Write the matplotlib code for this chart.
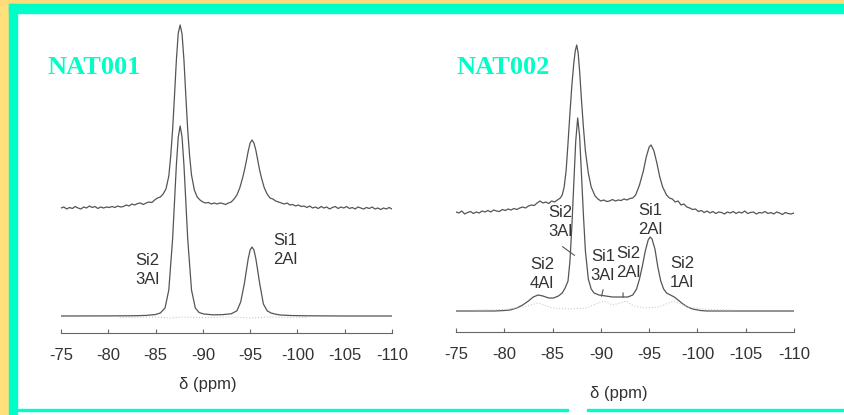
import matplotlib.pyplot as plt
from matplotlib.patches import Rectangle

# --- NAT001 ---
# experimental trace (top), intensity above its own baseline
ppm_exp1 = [-75.0, -75.3, -75.6, -75.9, -76.2, -76.5, -76.8, -77.1, -77.4, -77.7,
            -78.0, -78.3, -78.6, -78.9, -79.2, -79.5, -79.8, -80.1, -80.4, -80.7,
            -81.0, -81.3, -81.6, -81.9, -82.2, -82.5, -82.8, -83.1, -83.4, -83.7,
            -84.0, -84.3, -84.6, -84.9, -85.2, -85.5, -85.8, -86.1, -86.4, -86.6,
            -86.8, -87.0, -87.2, -87.4, -87.6, -87.8, -88.0, -88.2, -88.4, -88.6,
            -88.8, -89.1, -89.4, -89.7, -90.0, -90.3, -90.6, -90.9, -91.2, -91.5,
            -91.8, -92.1, -92.4, -92.7, -93.0, -93.3, -93.6, -93.9, -94.2, -94.4,
            -94.6, -94.8, -95.0, -95.2, -95.4, -95.6, -95.8, -96.0, -96.2, -96.5,
            -96.8, -97.1, -97.4, -97.7, -98.0, -98.3, -98.6, -98.9, -99.2, -99.5,
            -99.8, -100.1, -100.4, -100.7, -101.0, -101.3, -101.6, -101.9, -102.2, -102.5,
            -102.8, -103.1, -103.4, -103.7, -104.0, -104.3, -104.6, -104.9, -105.2, -105.5,
            -105.8, -106.1, -106.4, -106.7, -107.0, -107.3, -107.6, -107.9, -108.2, -108.5,
            -108.8, -109.1, -109.4, -109.7, -110.0]
int_exp1 = [0, 1, -1, 0.5, -0.5, 1.5, 0, -1, 1, 0,
            2, 0.5, 1.5, -0.5, 1, 0, 1, 0.5, 1.5, 0.5,
            2, 1, 1.5, 3, 2, 4, 3, 4.5, 5, 3.5,
            5, 6, 5.5, 8, 10, 11, 14, 19, 32, 52,
            78, 112, 148, 175, 183, 174, 148, 112, 78, 52,
            33, 18, 11, 8, 6, 5, 5.5, 4, 5, 4,
            5, 4.5, 3.5, 5, 6, 9, 13, 20, 30, 38,
            47, 57, 65, 68, 65, 58, 48, 38, 30, 20,
            14, 10, 9, 7, 6, 5, 4, 5, 3, 3.5,
            2, 3, 1.5, 2, 0.5, 2, 0, 1, -0.5, 1.5,
            0, 1, -1, 0.5, 1.5, -0.5, 1, 0, 1.5, -0.5,
            0.5, -1, 1, 0, -1, 0.5, -0.5, 1, -1, 0,
            -1.5, 0, -1, 0.5, -1]

# simulated trace (bottom)
ppm_sim1 = [-75, -80, -82, -83, -84, -85, -85.5, -86, -86.4, -86.8,
            -87.0, -87.2, -87.4, -87.6, -87.8, -88.0, -88.2, -88.4, -88.8, -89.2,
            -89.6, -90.1, -91, -92, -93, -93.6, -94.0, -94.4, -94.6, -94.8,
            -95.0, -95.2, -95.4, -95.6, -95.8, -96.0, -96.4, -96.8, -97.2, -97.7,
            -98.2, -99.2, -101, -105, -110]
int_sim1 = [0, 0.1, 0.2, 0.3, 0.6, 1.5, 3, 8, 26, 77,
            114, 151, 179, 190, 179, 151, 114, 77, 26, 8,
            3.5, 2, 1.2, 1.3, 2.2, 5.2, 14, 33, 45.5, 57.5,
            66, 69, 66, 57.5, 45.5, 33, 12, 5.2, 3, 1.8,
            1.0, 0.5, 0.2, 0, 0]

# fit residual (dotted, along the baseline)
ppm_res1 = [-81.2, -83, -85, -86.5, -88, -89.5, -91, -93, -95, -97, -99, -101]
int_res1 = [-1.5, -1.5, -1, -2, -1, -1.5, -1.5, -1, -2, -1, -1.5, -1.5]

labels1 = ['Si2\n3Al', 'Si1\n2Al']
label_ppm1 = [-84.1, -98.7]
label_int1 = [46, 66]

# --- NAT002 ---
ppm_exp2 = [-75.0, -75.3, -75.6, -75.9, -76.2, -76.5, -76.8, -77.1, -77.4, -77.7,
            -78.0, -78.3, -78.6, -78.9, -79.2, -79.5, -79.8, -80.1, -80.4, -80.7,
            -81.0, -81.3, -81.6, -81.9, -82.2, -82.5, -82.8, -83.1, -83.4, -83.7,
            -84.0, -84.3, -84.6, -84.9, -85.2, -85.5, -85.8, -86.0, -86.2, -86.4,
            -86.6, -86.8, -87.0, -87.2, -87.35, -87.5, -87.65, -87.8, -88.0, -88.2,
            -88.4, -88.7, -89.0, -89.4, -89.7, -90.0, -90.3, -90.6, -90.9, -91.2,
            -91.5, -91.8, -92.1, -92.4, -92.7, -93.0, -93.3, -93.6, -94.0, -94.4,
            -94.7, -95.0, -95.2, -95.5, -95.8, -96.1, -96.4, -96.8, -97.1, -97.4,
            -97.7, -98.0, -98.3, -98.6, -98.9, -99.2, -99.5, -99.8, -100.1, -100.4,
            -100.7, -101.0, -101.3, -101.6, -101.9, -102.2, -102.5, -102.8, -103.1, -103.4,
            -103.7, -104.0, -104.3, -104.6, -104.9, -105.2, -105.5, -105.8, -106.1, -106.4,
            -106.7, -107.0, -107.3, -107.6, -107.9, -108.2, -108.5, -108.8, -109.1, -109.4,
            -109.7, -110.0]
int_exp2 = [1, 0, 2, -1, 0.5, 1.5, -0.5, 1, 0, 2,
            1, 2.5, 1, 3, 2, 1.5, 3.5, 2.5, 4, 3,
            4.5, 3.5, 5, 6, 5, 7, 8, 7.5, 10, 12,
            10, 11, 9.5, 12, 11, 13, 15, 18, 26, 42,
            70, 100, 128, 150, 162, 168, 160, 142, 112, 85,
            62, 40, 26, 17, 14, 12, 13, 11.5, 12, 13.5,
            12, 13, 12.5, 14, 13, 14.5, 15, 18, 28, 42,
            56, 66, 68, 62, 50, 36, 26, 18, 15, 14,
            11, 12, 8, 9, 6, 5, 3.5, 4, 1.5, 2.5,
            0.5, 2, 0, 1.5, -0.5, 1, 0.5, -1, 1, 0,
            1.5, -0.5, 1, 0, 2, -0.5, 0.5, 1, -1, 0.5,
            0, 1.5, -0.5, 0.5, -1, 1, 0, -1.5, 0.5, -0.5,
            -1, 0]

ppm_sim2 = [-75, -79, -80, -80.6, -81.3, -81.9, -82.5, -83.0, -83.5, -84.0,
            -84.6, -85.1, -85.6, -86.0, -86.3, -86.6, -86.8, -87.0, -87.2, -87.4,
            -87.6, -87.8, -88.0, -88.2, -88.4, -88.7, -89.0, -89.3, -89.8, -90.5,
            -91.2, -92.0, -92.8, -93.3, -93.7, -94.0, -94.3, -94.6, -94.9, -95.1,
            -95.3, -95.6, -95.9, -96.2, -96.5, -96.8, -97.2, -97.6, -98.0, -98.5,
            -99.0, -99.5, -100.3, -101, -110]
int_sim2 = [0, 0, 0.5, 1, 3, 6, 10, 14, 16, 15,
            13, 13, 15, 18, 23, 30, 50, 85, 128, 170,
            193, 175, 135, 95, 60, 32, 22, 18, 16, 15,
            14, 14, 14, 16, 22, 32, 45, 60, 71, 74,
            72, 62, 44, 30, 22, 18, 16, 14, 11, 7,
            4, 2, 0.5, 0, 0]

# deconvoluted components near the baseline (dotted)
ppm_comp2 = [-77, -80, -82, -83.5, -85, -86.5, -88.5, -89.5, -90.3, -91.2,
             -92.0, -92.6, -93.4, -94.5, -96, -97.5, -99, -101, -103.7]
int_comp2 = [1, 1.5, 4, 8, 3, 2, 3, 7, 10, 6,
             8, 10, 5, 3, 4, 10, 4, 1.5, 1]

labels2 = ['Si2\n4Al', 'Si2\n3Al', 'Si1\n3Al', 'Si2\n2Al', 'Si1\n2Al', 'Si2\n1Al']
label_ppm2 = [-83.9, -85.8, -90.2, -92.8, -95.1, -98.4]
label_int2 = [37, 89, 45, 48, 91, 38]

ticks = [-75, -80, -85, -90, -95, -100, -105, -110]
teal = '#00FFC8'
line_col = '#555555'
txt_col = '#333333'

fig = plt.figure(figsize=(8.44, 4.15), dpi=100)

# frame around the slide
fig.patches.append(Rectangle((0, 0), 9 / 844, 1, transform=fig.transFigure, color='#FFE07C', zorder=0))
fig.patches.append(Rectangle((0, 411 / 415), 1, 4 / 415, transform=fig.transFigure, color='#FFDC7A', zorder=0))
fig.patches.append(Rectangle((9 / 844, 402 / 415), 835 / 844, 9 / 415, transform=fig.transFigure, color=teal, zorder=0))
fig.patches.append(Rectangle((9 / 844, 0), 8 / 844, 411 / 415, transform=fig.transFigure, color=teal, zorder=0))
fig.patches.append(Rectangle((17 / 844, 4 / 415), 551 / 844, 2 / 415, transform=fig.transFigure, color=teal, zorder=0))
fig.patches.append(Rectangle((587 / 844, 4 / 415), 257 / 844, 2 / 415, transform=fig.transFigure, color=teal, zorder=0))


def style_axis(ax):
    ax.set_xlim(-75, -110)
    for s in ['top', 'left', 'right']:
        ax.spines[s].set_visible(False)
    ax.spines['bottom'].set_color('#666666')
    ax.set_yticks([])
    ax.set_xticks(ticks)
    ax.set_xticklabels([str(t) for t in ticks])
    ax.tick_params(axis='x', direction='in', length=3, color='#666666', pad=11,
                   labelsize=12, labelcolor=txt_col)
    for lab in ax.get_xticklabels():
        lab.set_family('Liberation Sans')
    ax.patch.set_alpha(0)


# NAT001
ax1 = fig.add_axes([61 / 844, 82 / 415, 331 / 844, 318 / 415])
style_axis(ax1)
ax1.set_ylim(-17, 301)
ax1.plot(ppm_exp1, [v + 108 for v in int_exp1], color=line_col, lw=0.9)
ax1.plot(ppm_sim1, int_sim1, color=line_col, lw=0.9)
ax1.plot(ppm_res1, int_res1, color='#c8c8c8', lw=0.8, ls=':')
for t, x, y in zip(labels1, label_ppm1, label_int1):
    ax1.text(x, y, t, ha='center', va='center', fontsize=12, color=txt_col,
             family='Liberation Sans', linespacing=1.3)

# NAT002
ax2 = fig.add_axes([456 / 844, 83 / 415, 338 / 844, 317 / 415])
style_axis(ax2)
ax2.set_ylim(-21, 296)
ax2.plot(ppm_exp2, [v + 98 for v in int_exp2], color=line_col, lw=0.9)
ax2.plot(ppm_sim2, int_sim2, color=line_col, lw=0.9)
ax2.plot(ppm_comp2, int_comp2, color='#cccccc', lw=0.8, ls=':')
for t, x, y in zip(labels2, label_ppm2, label_int2):
    ax2.text(x, y, t, ha='center', va='center', fontsize=12, color=txt_col,
             family='Liberation Sans', linespacing=1.3)
# pointer lines
ax2.annotate('', xy=(-87.5, 54), xytext=(-85.8, 66),
             arrowprops=dict(arrowstyle='-', color=line_col, lw=0.8))
ax2.annotate('', xy=(-90.0, 12), xytext=(-90.3, 24),
             arrowprops=dict(arrowstyle='-', color=line_col, lw=0.8))
ax2.annotate('', xy=(-92.3, 11), xytext=(-92.3, 21),
             arrowprops=dict(arrowstyle='-', color=line_col, lw=0.8))

# sample names
fig.text(48 / 844, 1 - 68 / 415, 'NAT001', color=teal, fontsize=19, fontweight='bold',
         family='Liberation Serif', va='center', ha='left')
fig.text(457 / 844, 1 - 67 / 415, 'NAT002', color=teal, fontsize=19, fontweight='bold',
         family='Liberation Serif', va='center', ha='left')

# axis titles
fig.text(208 / 844, 1 - 384 / 415, 'δ (ppm)', color=txt_col, fontsize=12,
         family='Liberation Sans', ha='center', va='center')
fig.text(619 / 844, 1 - 393 / 415, 'δ (ppm)', color=txt_col, fontsize=12,
         family='Liberation Sans', ha='center', va='center')

plt.savefig('out.png', dpi=100, facecolor='white')
plt.close()
